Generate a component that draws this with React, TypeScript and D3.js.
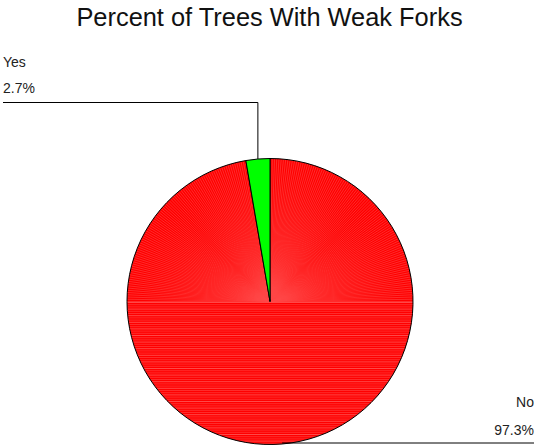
import React from "react";
import * as d3 from "d3";

const categories = ["Yes", "No"];
const percents = [2.7, 97.3];
const sliceColors = ["#00ff00", "#ff0000"];
const chartTitle = "Percent of Trees With Weak Forks";

const W = 534;
const H = 445;
const cx = 270;
const cy = 301.5;
const R = 143;

export default function App() {
  // "Yes" runs counter-clockwise from 12 o'clock, "No" takes the rest.
  const total = d3.sum(percents);
  const toAngle = d3.scaleLinear().domain([0, total]).range([0, 2 * Math.PI]);
  const yesSpan = toAngle(percents[0]);
  const slices = [
    { i: 0, start: -yesSpan, end: 0 },
    { i: 1, start: 0, end: 2 * Math.PI - yesSpan },
  ];
  const arc = d3.arc<any>().innerRadius(0).outerRadius(R).startAngle((d) => d.start).endAngle((d) => d.end);

  const mid = (s: { start: number; end: number }) => (s.start + s.end) / 2;
  const pt = (a: number, r: number) => [cx + r * Math.sin(a), cy - r * Math.cos(a)];

  // shading lines for the red slice: radial in upper half, horizontal in lower half
  const radial = d3.range(-90, 90.01, 0.9).map((deg) => (deg * Math.PI) / 180);
  const horiz = d3.range(cy + 1, cy + R, 2.2);

  const yesPt = pt(mid(slices[0]), R);
  const noPt = pt(mid(slices[1]), R);
  const font = "'Liberation Sans', Arial, sans-serif";

  return (
    <svg width={W} height={H} style={{ position: "absolute", left: 0, top: 0, background: "#fff" }}>
      <defs>
        <clipPath id="noClip">
          <path d={arc(slices[1]) || ""} transform={`translate(${cx},${cy})`} />
        </clipPath>
      </defs>
      <text x={269.5} y={26} textAnchor="middle" fontFamily={font} fontSize={25.4} fill="#111">
        {chartTitle}
      </text>
      <g transform={`translate(${cx},${cy})`}>
        <path d={arc(slices[1]) || ""} fill={sliceColors[1]} />
      </g>
      <g clipPath="url(#noClip)" stroke="#ff5a5a" strokeWidth={0.6} opacity={0.8}>
        {radial.map((a, k) => {
          const [x, y] = pt(a, R);
          return <line key={"r" + k} x1={cx} y1={cy} x2={x} y2={y} />;
        })}
        {horiz.map((y, k) => (
          <line key={"h" + k} x1={cx - R} x2={cx + R} y1={y} y2={y} strokeWidth={k % 3 === 0 ? 1 : 0.6} />
        ))}
      </g>
      <g transform={`translate(${cx},${cy})`} stroke="#000" strokeWidth={1}>
        <path d={arc(slices[1]) || ""} fill="none" />
        <path d={arc(slices[0]) || ""} fill={sliceColors[0]} />
      </g>
      {/* leader lines */}
      <polyline points={`3,102.5 ${yesPt[0]},102.5 ${yesPt[0]},${yesPt[1]}`} fill="none" stroke="#000" strokeWidth={1} />
      <line x1={noPt[0]} y1={443} x2={W} y2={443} stroke="#000" strokeWidth={1} />
      <g fontFamily={font} fontSize={14} fill="#222">
        <text x={3} y={67}>{categories[0]}</text>
        <text x={3} y={93}>{`${percents[0]}%`}</text>
        <text x={534} y={407} textAnchor="end">{categories[1]}</text>
        <text x={534} y={435} textAnchor="end">{`${percents[1]}%`}</text>
      </g>
    </svg>
  );
}
